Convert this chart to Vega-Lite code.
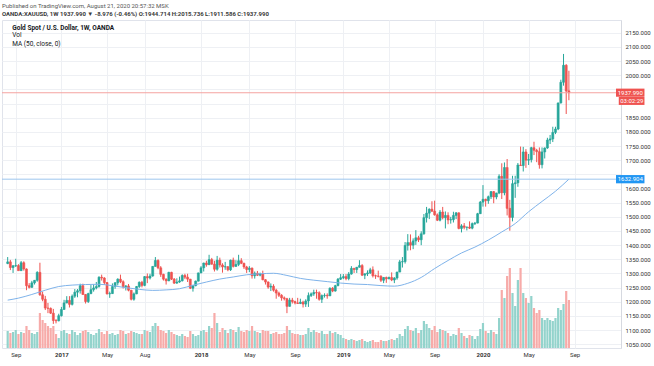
{
"$schema": "https://vega.github.io/schema/vega-lite/v6.json",
"width": 619, "height": 328,
"autosize": {"type": "none"},
"padding": {"left": 2, "top": 20, "right": 33, "bottom": 18},
"background": "white",
"config": {"view": {"stroke": "#e0e3eb"}, "font": "Roboto", "axis": {"labelOverlap": false, "labelFlush": false}},
"title": {"text": "Published on TradingView.com, August 21, 2020 20:57:32 MSK", "subtitle": "OANDA:XAUUSD, 1W  1937.990 ▼ -8.976 (-0.46%) O:1944.714 H:2015.736 L:1911.586 C:1937.990", "anchor": "start", "frame": "group", "fontSize": 6, "fontWeight": "normal", "color": "#555555", "subtitleFontSize": 6, "subtitleColor": "#3a3a3a", "subtitleFontWeight": "bold", "subtitlePadding": 2.5, "offset": 3},
"datasets": {
"k": [
{"d":"2016-08-15","o":1335,"h":1358,"l":1333,"c":1341,"v":51},
{"d":"2016-08-22","o":1341,"h":1348,"l":1312,"c":1321,"v":45},
{"d":"2016-08-29","o":1321,"h":1330,"l":1302,"c":1327,"v":48},
{"d":"2016-09-05","o":1327,"h":1352,"l":1323,"c":1328,"v":54},
{"d":"2016-09-12","o":1328,"h":1333,"l":1310,"c":1310,"v":42},
{"d":"2016-09-19","o":1310,"h":1344,"l":1309,"c":1338,"v":48},
{"d":"2016-09-26","o":1338,"h":1343,"l":1310,"c":1316,"v":45},
{"d":"2016-10-03","o":1316,"h":1318,"l":1241,"c":1257,"v":66},
{"d":"2016-10-10","o":1257,"h":1266,"l":1247,"c":1251,"v":54},
{"d":"2016-10-17","o":1251,"h":1274,"l":1250,"c":1267,"v":45},
{"d":"2016-10-24","o":1267,"h":1277,"l":1261,"c":1276,"v":42},
{"d":"2016-10-31","o":1276,"h":1308,"l":1271,"c":1304,"v":48},
{"d":"2016-11-07","o":1304,"h":1338,"l":1221,"c":1225,"v":105},
{"d":"2016-11-14","o":1225,"h":1236,"l":1202,"c":1209,"v":84},
{"d":"2016-11-21","o":1209,"h":1221,"l":1171,"c":1178,"v":75},
{"d":"2016-11-28","o":1178,"h":1196,"l":1160,"c":1177,"v":66},
{"d":"2016-12-05","o":1177,"h":1180,"l":1157,"c":1160,"v":60},
{"d":"2016-12-12","o":1160,"h":1175,"l":1122,"c":1134,"v":66},
{"d":"2016-12-19","o":1134,"h":1139,"l":1124,"c":1133,"v":42},
{"d":"2016-12-26","o":1133,"h":1158,"l":1131,"c":1151,"v":30},
{"d":"2017-01-02","o":1151,"h":1182,"l":1148,"c":1173,"v":51},
{"d":"2017-01-09","o":1173,"h":1207,"l":1172,"c":1196,"v":54},
{"d":"2017-01-16","o":1196,"h":1220,"l":1195,"c":1205,"v":45},
{"d":"2017-01-23","o":1205,"h":1220,"l":1180,"c":1191,"v":42},
{"d":"2017-01-30","o":1191,"h":1226,"l":1187,"c":1220,"v":54},
{"d":"2017-02-06","o":1220,"h":1245,"l":1214,"c":1234,"v":48},
{"d":"2017-02-13","o":1234,"h":1245,"l":1216,"c":1239,"v":39},
{"d":"2017-02-20","o":1239,"h":1264,"l":1229,"c":1257,"v":45},
{"d":"2017-02-27","o":1257,"h":1264,"l":1224,"c":1226,"v":51},
{"d":"2017-03-06","o":1226,"h":1227,"l":1194,"c":1201,"v":54},
{"d":"2017-03-13","o":1201,"h":1232,"l":1196,"c":1229,"v":48},
{"d":"2017-03-20","o":1229,"h":1259,"l":1227,"c":1243,"v":42},
{"d":"2017-03-27","o":1243,"h":1262,"l":1236,"c":1249,"v":39},
{"d":"2017-04-03","o":1249,"h":1270,"l":1244,"c":1254,"v":45},
{"d":"2017-04-10","o":1254,"h":1290,"l":1250,"c":1287,"v":57},
{"d":"2017-04-17","o":1287,"h":1296,"l":1275,"c":1284,"v":48},
{"d":"2017-04-24","o":1284,"h":1287,"l":1260,"c":1268,"v":42},
{"d":"2017-05-01","o":1268,"h":1270,"l":1226,"c":1228,"v":51},
{"d":"2017-05-08","o":1228,"h":1236,"l":1214,"c":1229,"v":42},
{"d":"2017-05-15","o":1229,"h":1265,"l":1228,"c":1254,"v":45},
{"d":"2017-05-22","o":1254,"h":1270,"l":1246,"c":1267,"v":39},
{"d":"2017-05-29","o":1267,"h":1283,"l":1258,"c":1280,"v":42},
{"d":"2017-06-05","o":1280,"h":1296,"l":1266,"c":1271,"v":54},
{"d":"2017-06-12","o":1271,"h":1276,"l":1247,"c":1254,"v":51},
{"d":"2017-06-19","o":1254,"h":1259,"l":1240,"c":1256,"v":42},
{"d":"2017-06-26","o":1256,"h":1263,"l":1237,"c":1241,"v":45},
{"d":"2017-07-03","o":1241,"h":1242,"l":1205,"c":1209,"v":51},
{"d":"2017-07-10","o":1209,"h":1233,"l":1204,"c":1228,"v":48},
{"d":"2017-07-17","o":1228,"h":1256,"l":1227,"c":1254,"v":45},
{"d":"2017-07-24","o":1254,"h":1272,"l":1249,"c":1269,"v":42},
{"d":"2017-07-31","o":1269,"h":1274,"l":1251,"c":1258,"v":42},
{"d":"2017-08-07","o":1258,"h":1291,"l":1255,"c":1289,"v":54},
{"d":"2017-08-14","o":1289,"h":1300,"l":1266,"c":1284,"v":51},
{"d":"2017-08-21","o":1284,"h":1299,"l":1279,"c":1291,"v":48},
{"d":"2017-08-28","o":1291,"h":1326,"l":1289,"c":1325,"v":66},
{"d":"2017-09-04","o":1325,"h":1358,"l":1324,"c":1346,"v":75},
{"d":"2017-09-11","o":1346,"h":1350,"l":1315,"c":1320,"v":66},
{"d":"2017-09-18","o":1320,"h":1326,"l":1288,"c":1297,"v":54},
{"d":"2017-09-25","o":1297,"h":1299,"l":1275,"c":1280,"v":51},
{"d":"2017-10-02","o":1280,"h":1283,"l":1261,"c":1274,"v":45},
{"d":"2017-10-09","o":1274,"h":1306,"l":1273,"c":1304,"v":54},
{"d":"2017-10-16","o":1304,"h":1306,"l":1277,"c":1280,"v":48},
{"d":"2017-10-23","o":1280,"h":1284,"l":1263,"c":1266,"v":42},
{"d":"2017-10-30","o":1266,"h":1283,"l":1264,"c":1270,"v":39},
{"d":"2017-11-06","o":1270,"h":1289,"l":1267,"c":1274,"v":36},
{"d":"2017-11-13","o":1274,"h":1297,"l":1272,"c":1293,"v":42},
{"d":"2017-11-20","o":1293,"h":1299,"l":1280,"c":1287,"v":36},
{"d":"2017-11-27","o":1287,"h":1299,"l":1270,"c":1280,"v":33},
{"d":"2017-12-04","o":1280,"h":1281,"l":1245,"c":1248,"v":51},
{"d":"2017-12-11","o":1248,"h":1260,"l":1236,"c":1257,"v":42},
{"d":"2017-12-18","o":1257,"h":1275,"l":1255,"c":1273,"v":36},
{"d":"2017-12-25","o":1273,"h":1303,"l":1272,"c":1302,"v":39},
{"d":"2018-01-01","o":1302,"h":1326,"l":1301,"c":1320,"v":51},
{"d":"2018-01-08","o":1320,"h":1338,"l":1307,"c":1337,"v":54},
{"d":"2018-01-15","o":1337,"h":1345,"l":1324,"c":1331,"v":48},
{"d":"2018-01-22","o":1331,"h":1366,"l":1330,"c":1349,"v":66},
{"d":"2018-01-29","o":1349,"h":1355,"l":1331,"c":1333,"v":60},
{"d":"2018-02-05","o":1333,"h":1345,"l":1307,"c":1315,"v":105},
{"d":"2018-02-12","o":1315,"h":1362,"l":1310,"c":1347,"v":75},
{"d":"2018-02-19","o":1347,"h":1356,"l":1321,"c":1330,"v":48},
{"d":"2018-02-26","o":1330,"h":1336,"l":1303,"c":1323,"v":60},
{"d":"2018-03-05","o":1323,"h":1341,"l":1313,"c":1324,"v":54},
{"d":"2018-03-12","o":1324,"h":1326,"l":1308,"c":1313,"v":45},
{"d":"2018-03-19","o":1313,"h":1349,"l":1309,"c":1347,"v":57},
{"d":"2018-03-26","o":1347,"h":1356,"l":1321,"c":1325,"v":54},
{"d":"2018-04-02","o":1325,"h":1347,"l":1324,"c":1332,"v":48},
{"d":"2018-04-09","o":1332,"h":1366,"l":1326,"c":1345,"v":63},
{"d":"2018-04-16","o":1345,"h":1354,"l":1333,"c":1336,"v":51},
{"d":"2018-04-23","o":1336,"h":1338,"l":1316,"c":1323,"v":48},
{"d":"2018-04-30","o":1323,"h":1327,"l":1302,"c":1314,"v":54},
{"d":"2018-05-07","o":1314,"h":1326,"l":1305,"c":1319,"v":51},
{"d":"2018-05-14","o":1319,"h":1321,"l":1282,"c":1292,"v":66},
{"d":"2018-05-21","o":1292,"h":1307,"l":1282,"c":1301,"v":51},
{"d":"2018-05-28","o":1301,"h":1309,"l":1291,"c":1294,"v":48},
{"d":"2018-06-04","o":1294,"h":1303,"l":1290,"c":1298,"v":45},
{"d":"2018-06-11","o":1298,"h":1310,"l":1276,"c":1278,"v":54},
{"d":"2018-06-18","o":1278,"h":1280,"l":1261,"c":1270,"v":51},
{"d":"2018-06-25","o":1270,"h":1272,"l":1246,"c":1252,"v":51},
{"d":"2018-07-02","o":1252,"h":1265,"l":1238,"c":1255,"v":42},
{"d":"2018-07-09","o":1255,"h":1262,"l":1236,"c":1241,"v":45},
{"d":"2018-07-16","o":1241,"h":1246,"l":1211,"c":1231,"v":48},
{"d":"2018-07-23","o":1231,"h":1236,"l":1217,"c":1223,"v":42},
{"d":"2018-07-30","o":1223,"h":1227,"l":1204,"c":1214,"v":42},
{"d":"2018-08-06","o":1214,"h":1219,"l":1205,"c":1211,"v":45},
{"d":"2018-08-13","o":1211,"h":1214,"l":1160,"c":1184,"v":66},
{"d":"2018-08-20","o":1184,"h":1214,"l":1183,"c":1206,"v":54},
{"d":"2018-08-27","o":1206,"h":1214,"l":1194,"c":1201,"v":45},
{"d":"2018-09-03","o":1201,"h":1204,"l":1191,"c":1196,"v":42},
{"d":"2018-09-10","o":1196,"h":1214,"l":1193,"c":1194,"v":42},
{"d":"2018-09-17","o":1194,"h":1211,"l":1192,"c":1199,"v":39},
{"d":"2018-09-24","o":1199,"h":1204,"l":1180,"c":1192,"v":39},
{"d":"2018-10-01","o":1192,"h":1209,"l":1182,"c":1203,"v":42},
{"d":"2018-10-08","o":1203,"h":1233,"l":1182,"c":1222,"v":60},
{"d":"2018-10-15","o":1222,"h":1233,"l":1217,"c":1228,"v":48},
{"d":"2018-10-22","o":1228,"h":1243,"l":1221,"c":1233,"v":54},
{"d":"2018-10-29","o":1233,"h":1243,"l":1211,"c":1232,"v":48},
{"d":"2018-11-05","o":1232,"h":1237,"l":1204,"c":1209,"v":45},
{"d":"2018-11-12","o":1209,"h":1226,"l":1196,"c":1222,"v":51},
{"d":"2018-11-19","o":1222,"h":1230,"l":1215,"c":1223,"v":42},
{"d":"2018-11-26","o":1223,"h":1230,"l":1211,"c":1221,"v":42},
{"d":"2018-12-03","o":1221,"h":1251,"l":1221,"c":1248,"v":51},
{"d":"2018-12-10","o":1248,"h":1252,"l":1234,"c":1238,"v":45},
{"d":"2018-12-17","o":1238,"h":1260,"l":1236,"c":1257,"v":48},
{"d":"2018-12-24","o":1257,"h":1284,"l":1255,"c":1280,"v":42},
{"d":"2018-12-31","o":1280,"h":1298,"l":1277,"c":1285,"v":39},
{"d":"2019-01-07","o":1285,"h":1298,"l":1280,"c":1289,"v":30},
{"d":"2019-01-14","o":1289,"h":1298,"l":1276,"c":1282,"v":27},
{"d":"2019-01-21","o":1282,"h":1305,"l":1276,"c":1298,"v":24},
{"d":"2019-01-28","o":1298,"h":1326,"l":1296,"c":1318,"v":27},
{"d":"2019-02-04","o":1318,"h":1320,"l":1302,"c":1314,"v":24},
{"d":"2019-02-11","o":1314,"h":1323,"l":1302,"c":1322,"v":21},
{"d":"2019-02-18","o":1322,"h":1347,"l":1321,"c":1328,"v":24},
{"d":"2019-02-25","o":1328,"h":1333,"l":1291,"c":1294,"v":27},
{"d":"2019-03-04","o":1294,"h":1300,"l":1280,"c":1299,"v":21},
{"d":"2019-03-11","o":1299,"h":1311,"l":1291,"c":1302,"v":18},
{"d":"2019-03-18","o":1302,"h":1320,"l":1298,"c":1313,"v":21},
{"d":"2019-03-25","o":1313,"h":1325,"l":1286,"c":1292,"v":24},
{"d":"2019-04-01","o":1292,"h":1296,"l":1281,"c":1291,"v":18},
{"d":"2019-04-08","o":1291,"h":1310,"l":1286,"c":1290,"v":18},
{"d":"2019-04-15","o":1290,"h":1294,"l":1270,"c":1276,"v":24},
{"d":"2019-04-22","o":1276,"h":1287,"l":1266,"c":1286,"v":21},
{"d":"2019-04-29","o":1286,"h":1289,"l":1267,"c":1281,"v":21},
{"d":"2019-05-06","o":1281,"h":1289,"l":1280,"c":1286,"v":24},
{"d":"2019-05-13","o":1286,"h":1304,"l":1273,"c":1277,"v":27},
{"d":"2019-05-20","o":1277,"h":1287,"l":1266,"c":1284,"v":24},
{"d":"2019-05-27","o":1284,"h":1306,"l":1278,"c":1305,"v":30},
{"d":"2019-06-03","o":1305,"h":1348,"l":1305,"c":1341,"v":42},
{"d":"2019-06-10","o":1341,"h":1358,"l":1321,"c":1342,"v":36},
{"d":"2019-06-17","o":1342,"h":1411,"l":1335,"c":1399,"v":57},
{"d":"2019-06-24","o":1399,"h":1439,"l":1381,"c":1409,"v":66},
{"d":"2019-07-01","o":1409,"h":1438,"l":1382,"c":1400,"v":54},
{"d":"2019-07-08","o":1400,"h":1424,"l":1386,"c":1415,"v":51},
{"d":"2019-07-15","o":1415,"h":1453,"l":1401,"c":1426,"v":60},
{"d":"2019-07-22","o":1426,"h":1433,"l":1411,"c":1419,"v":45},
{"d":"2019-07-29","o":1419,"h":1449,"l":1400,"c":1440,"v":54},
{"d":"2019-08-05","o":1440,"h":1510,"l":1437,"c":1497,"v":81},
{"d":"2019-08-12","o":1497,"h":1535,"l":1480,"c":1513,"v":72},
{"d":"2019-08-19","o":1513,"h":1530,"l":1492,"c":1527,"v":60},
{"d":"2019-08-26","o":1527,"h":1555,"l":1517,"c":1520,"v":54},
{"d":"2019-09-02","o":1520,"h":1557,"l":1504,"c":1507,"v":66},
{"d":"2019-09-09","o":1507,"h":1512,"l":1485,"c":1488,"v":48},
{"d":"2019-09-16","o":1488,"h":1524,"l":1484,"c":1517,"v":57},
{"d":"2019-09-23","o":1517,"h":1535,"l":1491,"c":1497,"v":54},
{"d":"2019-09-30","o":1497,"h":1519,"l":1459,"c":1505,"v":51},
{"d":"2019-10-07","o":1505,"h":1516,"l":1474,"c":1489,"v":45},
{"d":"2019-10-14","o":1489,"h":1500,"l":1476,"c":1490,"v":36},
{"d":"2019-10-21","o":1490,"h":1518,"l":1480,"c":1505,"v":42},
{"d":"2019-10-28","o":1505,"h":1517,"l":1492,"c":1514,"v":39},
{"d":"2019-11-04","o":1514,"h":1516,"l":1456,"c":1459,"v":60},
{"d":"2019-11-11","o":1459,"h":1474,"l":1445,"c":1468,"v":45},
{"d":"2019-11-18","o":1468,"h":1478,"l":1456,"c":1463,"v":36},
{"d":"2019-11-25","o":1463,"h":1465,"l":1452,"c":1464,"v":30},
{"d":"2019-12-02","o":1464,"h":1484,"l":1457,"c":1460,"v":39},
{"d":"2019-12-09","o":1460,"h":1480,"l":1456,"c":1476,"v":36},
{"d":"2019-12-16","o":1476,"h":1482,"l":1471,"c":1478,"v":27},
{"d":"2019-12-23","o":1478,"h":1514,"l":1477,"c":1511,"v":36},
{"d":"2019-12-30","o":1511,"h":1556,"l":1510,"c":1552,"v":57},
{"d":"2020-01-06","o":1552,"h":1612,"l":1536,"c":1562,"v":75},
{"d":"2020-01-13","o":1562,"h":1564,"l":1536,"c":1557,"v":51},
{"d":"2020-01-20","o":1557,"h":1575,"l":1546,"c":1571,"v":45},
{"d":"2020-01-27","o":1571,"h":1591,"l":1563,"c":1589,"v":54},
{"d":"2020-02-03","o":1589,"h":1591,"l":1548,"c":1570,"v":48},
{"d":"2020-02-10","o":1570,"h":1585,"l":1562,"c":1584,"v":42},
{"d":"2020-02-17","o":1584,"h":1650,"l":1580,"c":1643,"v":90},
{"d":"2020-02-24","o":1643,"h":1689,"l":1563,"c":1585,"v":174},
{"d":"2020-03-02","o":1585,"h":1692,"l":1576,"c":1674,"v":150},
{"d":"2020-03-09","o":1674,"h":1704,"l":1505,"c":1530,"v":216},
{"d":"2020-03-16","o":1530,"h":1560,"l":1451,"c":1498,"v":240},
{"d":"2020-03-23","o":1498,"h":1645,"l":1484,"c":1617,"v":165},
{"d":"2020-03-30","o":1617,"h":1645,"l":1567,"c":1620,"v":126},
{"d":"2020-04-06","o":1620,"h":1690,"l":1606,"c":1683,"v":204},
{"d":"2020-04-13","o":1683,"h":1748,"l":1680,"c":1681,"v":240},
{"d":"2020-04-20","o":1681,"h":1747,"l":1660,"c":1729,"v":165},
{"d":"2020-04-27","o":1729,"h":1739,"l":1673,"c":1700,"v":150},
{"d":"2020-05-04","o":1700,"h":1722,"l":1683,"c":1702,"v":135},
{"d":"2020-05-11","o":1702,"h":1747,"l":1692,"c":1744,"v":156},
{"d":"2020-05-18","o":1744,"h":1765,"l":1718,"c":1735,"v":120},
{"d":"2020-05-25","o":1735,"h":1740,"l":1693,"c":1730,"v":105},
{"d":"2020-06-01","o":1730,"h":1745,"l":1670,"c":1684,"v":114},
{"d":"2020-06-08","o":1684,"h":1745,"l":1671,"c":1729,"v":90},
{"d":"2020-06-15","o":1729,"h":1745,"l":1706,"c":1743,"v":84},
{"d":"2020-06-22","o":1743,"h":1779,"l":1740,"c":1771,"v":90},
{"d":"2020-06-29","o":1771,"h":1789,"l":1757,"c":1775,"v":84},
{"d":"2020-07-06","o":1775,"h":1818,"l":1764,"c":1798,"v":81},
{"d":"2020-07-13","o":1798,"h":1818,"l":1792,"c":1810,"v":90},
{"d":"2020-07-20","o":1810,"h":1903,"l":1806,"c":1902,"v":120},
{"d":"2020-07-27","o":1902,"h":1984,"l":1900,"c":1975,"v":114},
{"d":"2020-08-03","o":1975,"h":2075,"l":1963,"c":2035,"v":132},
{"d":"2020-08-10","o":2035,"h":2039,"l":1863,"c":1944,"v":171},
{"d":"2020-08-17","o":1944.714,"h":2015.736,"l":1911.586,"c":1937.99,"v":144}
],
"ma": [
{"d":"2016-08-15","m":1206},{"d":"2016-09-12","m":1213},{"d":"2016-10-17","m":1226},{"d":"2016-11-21","m":1241},{"d":"2016-12-26","m":1254},
{"d":"2017-01-30","m":1259},{"d":"2017-03-06","m":1261},{"d":"2017-04-10","m":1262},{"d":"2017-05-15","m":1257},{"d":"2017-06-19","m":1250},
{"d":"2017-07-24","m":1244},{"d":"2017-08-28","m":1240.4},{"d":"2017-10-02","m":1242.1},{"d":"2017-11-06","m":1246.2},{"d":"2017-12-11","m":1258.4},
{"d":"2018-01-15","m":1269.9},{"d":"2018-02-19","m":1280.3},{"d":"2018-03-26","m":1287.7},{"d":"2018-04-30","m":1295.4},{"d":"2018-06-04","m":1298.9},
{"d":"2018-07-09","m":1300.8},{"d":"2018-08-13","m":1293.1},{"d":"2018-09-17","m":1282.7},{"d":"2018-10-22","m":1276.4},{"d":"2018-11-26","m":1271.3},
{"d":"2018-12-31","m":1266.2},{"d":"2019-02-04","m":1262.7},{"d":"2019-03-11","m":1261},{"d":"2019-04-15","m":1257.2},{"d":"2019-05-20","m":1255.4},
{"d":"2019-06-24","m":1265.4},{"d":"2019-07-29","m":1286.1},{"d":"2019-09-02","m":1317.5},{"d":"2019-10-07","m":1345.9},{"d":"2019-11-11","m":1372.4},
{"d":"2019-12-16","m":1393.1},{"d":"2020-01-20","m":1418.1},{"d":"2020-02-24","m":1446.6},{"d":"2020-03-30","m":1476.2},{"d":"2020-05-04","m":1517.9},
{"d":"2020-06-08","m":1554.4},{"d":"2020-07-13","m":1590.3},{"d":"2020-08-17","m":1632.9}
],
"one": [{}]
},
"layer": [
{"data": {"name": "k"},
 "mark": {"type": "bar", "size": 2.2},
 "encoding": {
  "x": {"field": "d", "type": "temporal", "title": null,
   "scale": {"type": "utc", "domain": [{"year":2016,"month":8,"date":13,"hours":5,"utc":true},{"year":2020,"month":12,"date":17,"hours":19,"utc":true}]},
   "axis": {"values": [{"year":2016,"month":9,"date":5,"utc":true},{"year":2017,"month":1,"date":2,"utc":true},{"year":2017,"month":5,"date":1,"utc":true},{"year":2017,"month":8,"date":7,"utc":true},{"year":2018,"month":1,"date":1,"utc":true},{"year":2018,"month":5,"date":7,"utc":true},{"year":2018,"month":9,"date":3,"utc":true},{"year":2019,"month":1,"date":7,"utc":true},{"year":2019,"month":5,"date":6,"utc":true},{"year":2019,"month":9,"date":2,"utc":true},{"year":2020,"month":1,"date":6,"utc":true},{"year":2020,"month":5,"date":4,"utc":true},{"year":2020,"month":9,"date":1,"utc":true}],
    "tickCount": 40,
    "labelExpr": "utcmonth(datum.value) == 0 ? utcFormat(datum.value, '%Y') : utcFormat(datum.value, '%b')",
    "labelFontWeight": {"condition": {"test": "utcmonth(datum.value) == 0", "value": "bold"}, "value": "normal"},
    "labelFontSize": 6, "labelColor": "#333333", "labelPadding": 3, "ticks": false, "domain": false,
    "grid": true, "gridColor": "#eef0f4", "gridWidth": 1, "labelFlush": false, "labelOverlap": false, "title": null}},
  "y": {"field": "v", "type": "quantitative", "title": null, "scale": {"domain": [0, 984], "nice": false, "zero": true}, "axis": null},
  "color": {"condition": {"test": "datum.c >= datum.o", "value": "#93d3cc"}, "value": "#f7aba9"}
 }
},
{"layer": [
 {"data": {"name": "k"},
  "mark": {"type": "rule", "strokeWidth": 1},
  "encoding": {
   "x": {"field": "d", "type": "temporal", "title": null, "scale": {"type": "utc", "domain": [{"year":2016,"month":8,"date":13,"hours":5,"utc":true},{"year":2020,"month":12,"date":17,"hours":19,"utc":true}]}},
   "y": {"field": "l", "type": "quantitative", "title": null, "scale": {"domain": [1037, 2194.8], "nice": false, "zero": false},
    "axis": {"orient": "right", "title": null, "values": [1050,1100,1150,1200,1250,1300,1350,1400,1450,1500,1550,1600,1650,1700,1750,1800,1850,1900,1950,2000,2050,2100,2150], "tickCount": 60,
     "labelExpr": "indexof([1650, 1900, 1950], datum.value) >= 0 ? '' : format(datum.value, '.3f')",
     "labelFontSize": 6, "labelColor": "#333333", "labelPadding": 4, "ticks": false, "domain": true, "domainColor": "#d6d9e0", "grid": true, "gridColor": "#eef0f4", "labelOverlap": false, "labelFlush": false}},
   "y2": {"field": "h"},
   "color": {"condition": {"test": "datum.c >= datum.o", "value": "#26a69a"}, "value": "#ef5350"}
  }
 },
 {"data": {"name": "k"},
  "mark": {"type": "bar", "size": 2, "strokeWidth": 0.6},
  "encoding": {
   "x": {"field": "d", "type": "temporal", "title": null, "scale": {"type": "utc", "domain": [{"year":2016,"month":8,"date":13,"hours":5,"utc":true},{"year":2020,"month":12,"date":17,"hours":19,"utc":true}]}},
   "y": {"field": "o", "type": "quantitative", "title": null, "scale": {"domain": [1037, 2194.8], "nice": false, "zero": false}},
   "y2": {"field": "c"},
   "fill": {"condition": {"test": "datum.c >= datum.o", "value": "#26a69a"}, "value": "#ef5350"},
   "stroke": {"condition": {"test": "datum.c >= datum.o", "value": "#26a69a"}, "value": "#ef5350"}
  }
 },
 {"data": {"name": "ma"},
  "mark": {"type": "line", "interpolate": "monotone", "color": "#7fb3ea", "strokeWidth": 1},
  "encoding": {
   "x": {"field": "d", "type": "temporal", "title": null, "scale": {"type": "utc", "domain": [{"year":2016,"month":8,"date":13,"hours":5,"utc":true},{"year":2020,"month":12,"date":17,"hours":19,"utc":true}]}},
   "y": {"field": "m", "type": "quantitative", "title": null, "scale": {"domain": [1037, 2194.8], "nice": false, "zero": false}}
  }
 },
 {"data": {"name": "one"}, "mark": {"type": "rule", "color": "#f5a3a1", "strokeWidth": 1},
  "encoding": {"y": {"datum": 1937.99, "type": "quantitative", "title": null}}
 },
 {"data": {"name": "one"}, "mark": {"type": "rule", "color": "#9cc6ee", "strokeWidth": 1},
  "encoding": {"y": {"datum": 1632.904, "type": "quantitative", "title": null}}
 },
 {"data": {"name": "one"}, "mark": {"type": "rect", "color": "#ef5350"},
  "encoding": {
   "x": {"datum": {"year":2020,"month":12,"date":17,"hours":19,"utc":true}, "type": "temporal", "title": null},
   "x2": {"datum": {"year":2021,"month":3,"date":2,"utc":true}},
   "y": {"datum": 1923.9, "type": "quantitative", "title": null}, "y2": {"datum": 1952.6}
  }
 },
 {"data": {"name": "one"}, "mark": {"type": "rect", "color": "#ef5350"},
  "encoding": {
   "x": {"datum": {"year":2020,"month":12,"date":25,"utc":true}, "type": "temporal", "title": null},
   "x2": {"datum": {"year":2021,"month":3,"date":2,"utc":true}},
   "y": {"datum": 1895, "type": "quantitative", "title": null}, "y2": {"datum": 1923.2}
  }
 },
 {"data": {"name": "one"}, "mark": {"type": "rect", "color": "#2196f3"},
  "encoding": {
   "x": {"datum": {"year":2020,"month":12,"date":17,"hours":19,"utc":true}, "type": "temporal", "title": null},
   "x2": {"datum": {"year":2021,"month":3,"date":2,"utc":true}},
   "y": {"datum": 1618.3, "type": "quantitative", "title": null}, "y2": {"datum": 1647.5}
  }
 },
 {"data": {"name": "one"}, "mark": {"type": "text", "color": "white", "fontSize": 6, "align": "center", "baseline": "middle"},
  "encoding": {"x": {"datum": {"year":2021,"month":1,"date":24,"utc":true}, "type": "temporal", "title": null}, "y": {"datum": 1938.2, "type": "quantitative", "title": null}, "text": {"value": "1937.990"}}
 },
 {"data": {"name": "one"}, "mark": {"type": "text", "color": "white", "fontSize": 6, "align": "center", "baseline": "middle"},
  "encoding": {"x": {"datum": {"year":2021,"month":1,"date":28,"utc":true}, "type": "temporal", "title": null}, "y": {"datum": 1909.6, "type": "quantitative", "title": null}, "text": {"value": "03:02:29"}}
 },
 {"data": {"name": "one"}, "mark": {"type": "text", "color": "white", "fontSize": 6, "align": "center", "baseline": "middle"},
  "encoding": {"x": {"datum": {"year":2021,"month":1,"date":24,"utc":true}, "type": "temporal", "title": null}, "y": {"datum": 1632.9, "type": "quantitative", "title": null}, "text": {"value": "1632.904"}}
 },
 {"data": {"name": "one"}, "mark": {"type": "text", "color": "#131722", "fontSize": 6.5, "fontWeight": "bold", "align": "left", "baseline": "middle"},
  "encoding": {"x": {"datum": {"year":2016,"month":8,"date":27,"utc":true}, "type": "temporal", "title": null}, "y": {"datum": 2168.3, "type": "quantitative", "title": null}, "text": {"value": "Gold Spot / U.S. Dollar, 1W, OANDA"}}
 },
 {"data": {"name": "one"}, "mark": {"type": "text", "color": "#131722", "fontSize": 6.5, "align": "left", "baseline": "middle"},
  "encoding": {"x": {"datum": {"year":2016,"month":8,"date":27,"utc":true}, "type": "temporal", "title": null}, "y": {"datum": 2140.1, "type": "quantitative", "title": null}, "text": {"value": "Vol"}}
 },
 {"data": {"name": "one"}, "mark": {"type": "text", "color": "#131722", "fontSize": 6.5, "align": "left", "baseline": "middle"},
  "encoding": {"x": {"datum": {"year":2016,"month":8,"date":27,"utc":true}, "type": "temporal", "title": null}, "y": {"datum": 2111.8, "type": "quantitative", "title": null}, "text": {"value": "MA (50, close, 0)"}}
 }
]}
],
"resolve": {"scale": {"y": "independent"}}
}
